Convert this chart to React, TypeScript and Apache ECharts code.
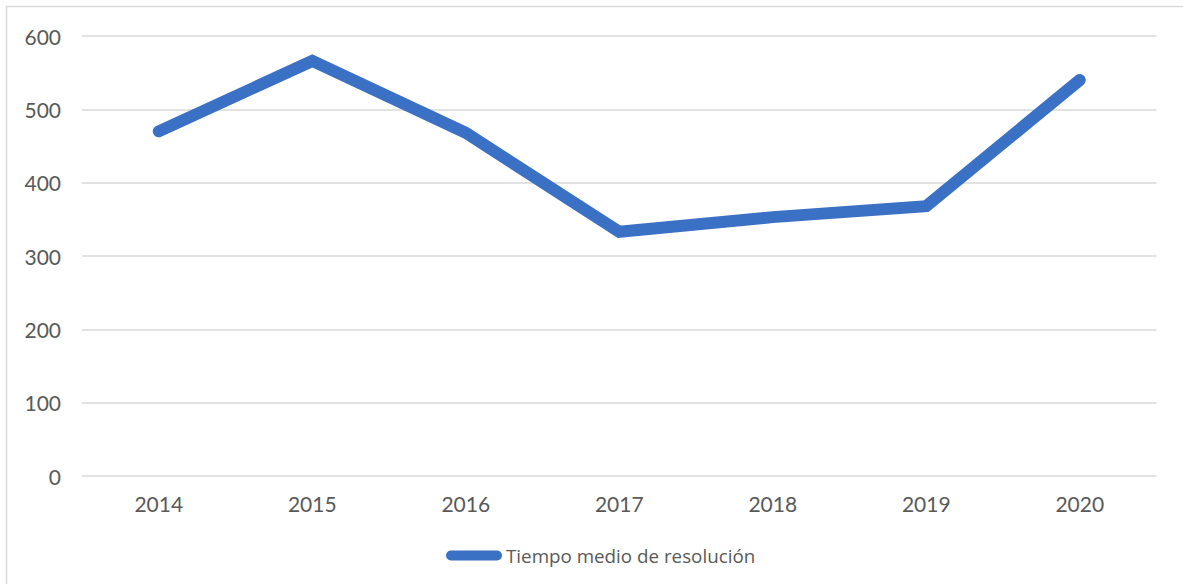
import React, { useEffect, useRef } from "react";
import * as echarts from "echarts";

const years = ["2014", "2015", "2016", "2017", "2018", "2019", "2020"];
const tiempoMedio = [470, 566, 468, 333, 353, 368, 540];
const seriesName = "Tiempo medio de resolución";

export default function App() {
  const ref = useRef<HTMLDivElement>(null);
  useEffect(() => {
    if (!ref.current) return;
    const chart = echarts.init(ref.current, undefined, { renderer: "svg" });
    chart.setOption({
      animation: false,
      backgroundColor: "#ffffff",
      grid: { left: 82, right: 1183 - 1156.5, top: 36, bottom: 584 - 476, containLabel: false },
      xAxis: {
        type: "category",
        data: years,
        boundaryGap: true,
        axisLine: { show: false },
        axisTick: { show: false },
        axisLabel: { color: "#595959", fontFamily: "Lato", fontSize: 21, margin: 17 },
      },
      yAxis: {
        type: "value",
        min: 0,
        max: 600,
        interval: 100,
        axisLine: { show: false },
        axisTick: { show: false },
        axisLabel: { color: "#595959", fontFamily: "Lato", fontSize: 21, margin: 21 },
        splitLine: { lineStyle: { color: "#d9d9d9", width: 1.5 } },
      },
      legend: {
        show: true,
        top: 541,
        left: 441,
        itemWidth: 56,
        itemHeight: 10,
        itemGap: 4,
        data: [{ name: seriesName, icon: "path://M5,0 L51,0 A5,5 0 0 1 51,10 L5,10 A5,5 0 0 1 5,0 Z" }],
        textStyle: { color: "#595959", fontFamily: "Open Sans", fontSize: 18.8, padding: [0, 0, 0, -1] },
      },
      series: [
        {
          name: seriesName,
          type: "line",
          data: tiempoMedio,
          symbol: "none",
          lineStyle: { color: "#3B71C4", width: 12, cap: "round", join: "miter" },
          itemStyle: { color: "#3B71C4" },
        },
      ],
      graphic: [
        {
          type: "rect",
          shape: { x: 6.5, y: 6.5, width: 1200, height: 600 },
          style: { fill: "none", stroke: "#d9d9d9", lineWidth: 1.5 },
          silent: true,
        },
      ],
    });
    return () => chart.dispose();
  }, []);
  return (
    <div
      ref={ref}
      style={{ position: "absolute", left: 0, top: 0, width: 1183, height: 584 }}
    />
  );
}
